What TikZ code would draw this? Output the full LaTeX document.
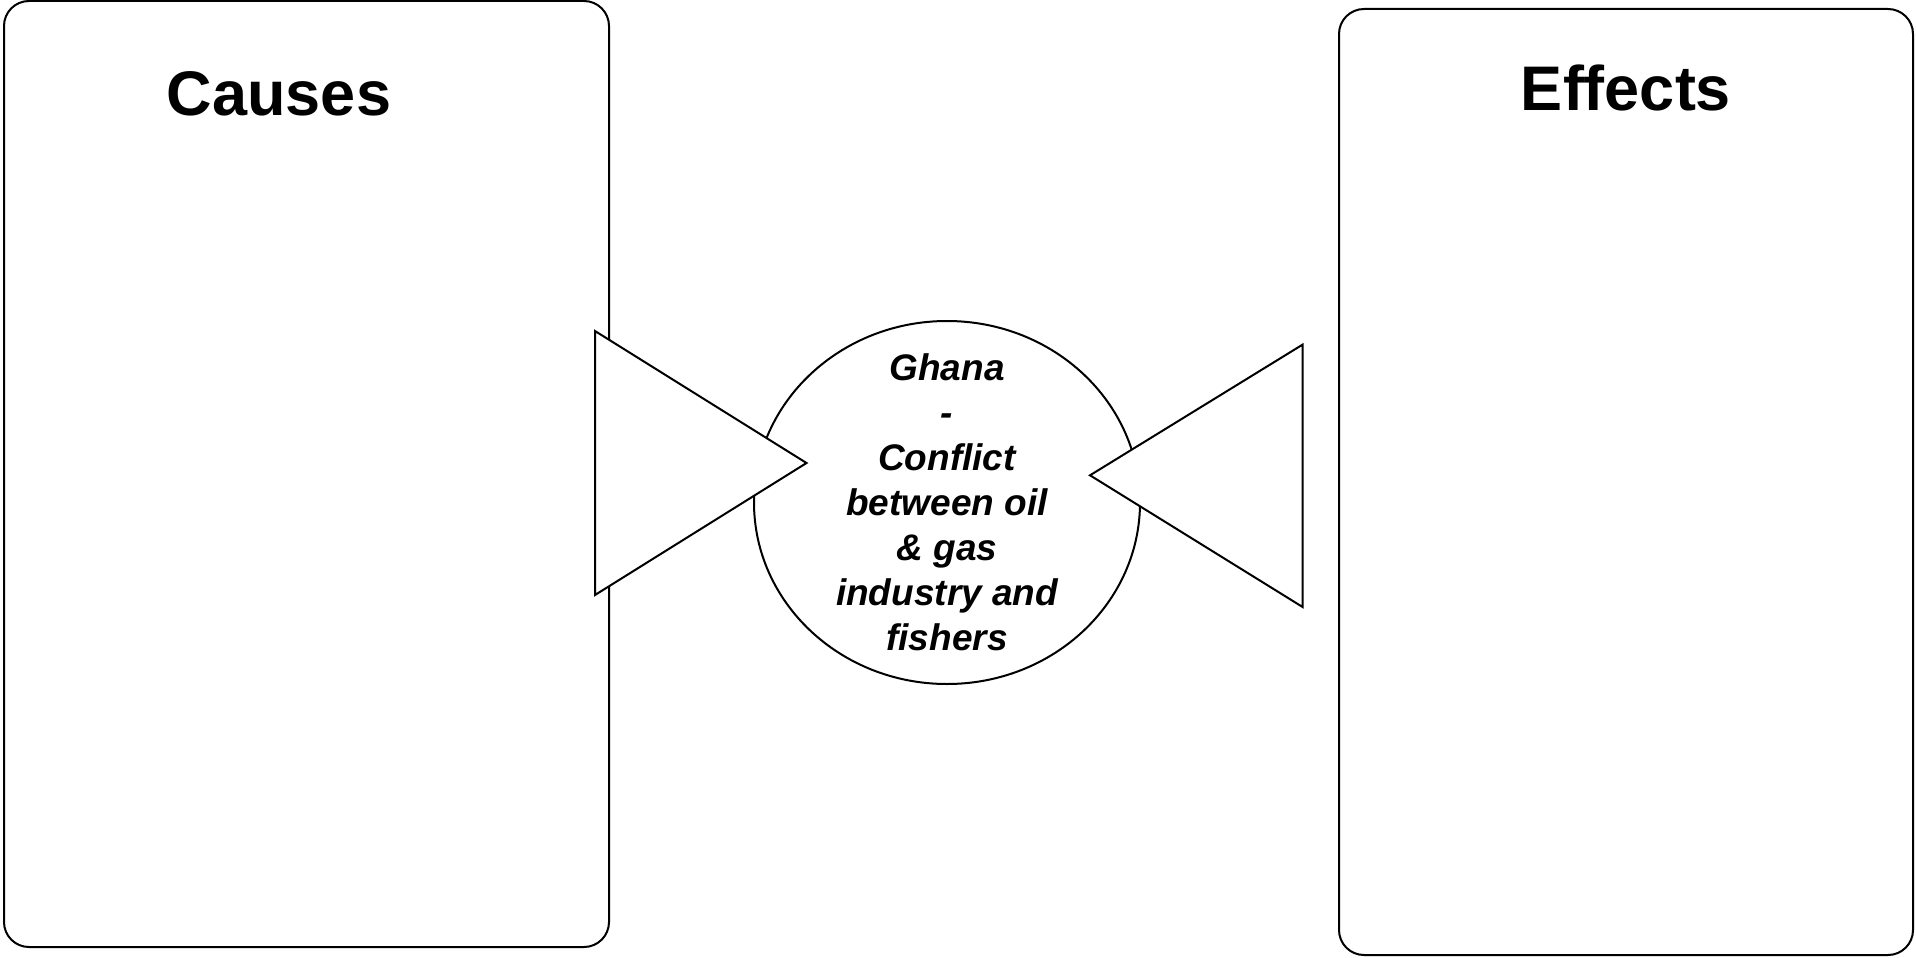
\documentclass[tikz,border=0pt]{standalone}
\usepackage{fontspec}
\setmainfont{Liberation Sans}
\usetikzlibrary{shapes.geometric}

\tikzset{
  panel/.style={draw, line width=2pt, rounded corners=25pt, inner sep=0pt},
  title/.style={font=\fontsize{63}{63}\selectfont\bfseries},
  hub/.style={draw, ellipse, line width=2pt, inner sep=0pt,
    minimum width=386pt, minimum height=363pt},
  hubtext/.style={align=center, inner sep=0pt,
    font=\fontsize{37}{45}\selectfont\bfseries\itshape},
  wedge/.style={draw, fill=white, line width=2pt, line join=miter}
}

\begin{document}
\begin{tikzpicture}[x=1pt, y=-1pt]
  \useasboundingbox (0,0) rectangle (1916,958);
  % the two panels
  \node[panel, minimum width=605pt, minimum height=946pt] (causes) at (306.5,474) {};
  \node[panel, minimum width=574pt, minimum height=946pt] (effects) at (1626,482) {};
  \node[title] (causestitle) at (279,94) {Causes};
  \node[title] (effectstitle) at (1626,88) {Effects};
  % centre issue
  \node[hub] (hub) at (947,502.5) {};
  \node[hubtext] (hubtext) at (hub.center) {Ghana\\-\\Conflict\\between oil\\\& gas\\industry and\\fishers};
  % pointers towards the centre
  \draw[wedge] (595,331) coordinate (lt) -- (806.5,463) coordinate (ltip)
    -- (595,595) coordinate (lb) -- cycle;
  \draw[wedge] (1302.6,344.6) coordinate (rt) -- (1090,475.3) coordinate (rtip)
    -- (1302.6,607) coordinate (rb) -- cycle;
\end{tikzpicture}
\end{document}
